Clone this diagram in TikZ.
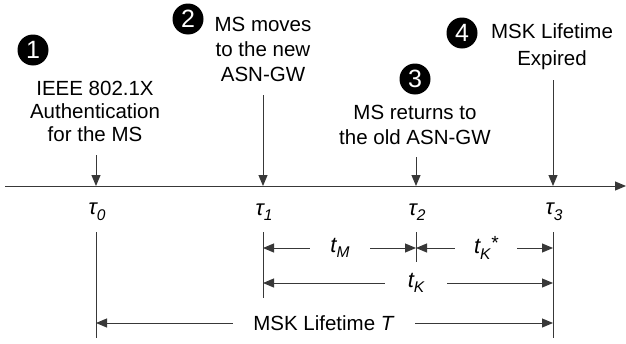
\documentclass[tikz,border=0pt]{standalone}
\usepackage{fontspec}
\setmainfont{Liberation Sans}
\usetikzlibrary{arrows.meta}
\definecolor{linec}{rgb}{0.22,0.22,0.22}
\newcommand\subtxt[1]{\raisebox{-0.25em}{\fontsize{15.5}{15.5}\selectfont\itshape #1}}
\begin{document}
\begin{tikzpicture}[x=1pt,y=-1pt,
  ln/.style={draw=linec, line width=1pt},
  arr/.style={ln, -{Triangle[length=11pt,width=9pt]}},
  num/.style={circle, fill=black, text=white, minimum size=31pt, inner sep=0pt, font=\fontsize{25}{25}\selectfont},
  lbl/.style={align=center, font=\fontsize{20.5}{25}\selectfont, inner sep=0pt},
  tau/.style={font=\fontsize{22}{22}\selectfont\itshape, inner sep=0pt},
  dimlbl/.style={font=\fontsize{22}{22}\selectfont, inner sep=0pt, align=center}]
\useasboundingbox (0,0) rectangle (626,343);
% numbered markers
\node[num] (n1) at (33,50) {1};
\node[num] (n2) at (188,19) {2};
\node[num] (n3) at (415,79) {3};
\node[num] (n4) at (462,33) {4};
% event texts
\node[lbl, font=\fontsize{20.5}{23}\selectfont] (l1) at (95,111) {IEEE 802.1X\\Authentication\\for the MS};
\node[lbl] (l2) at (263,49) {MS moves\\to the new\\ASN-GW};
\node[lbl] (l3) at (415,125) {MS returns to\\the old ASN-GW};
\node[lbl, font=\fontsize{20.5}{27}\selectfont] (l4) at (552,47) {MSK Lifetime\\Expired};
% axis
\coordinate (ax0) at (5,186);
\coordinate (ax1) at (626,186);
\draw[arr] (ax0) -- (ax1);
\coordinate (p0) at (96,186);
\coordinate (p1) at (263,186);
\coordinate (p2) at (416,186);
\coordinate (p3) at (553,186);
\coordinate (s0) at (96,155);
\coordinate (s1) at (263,95);
\coordinate (s2) at (416,157);
\coordinate (s3) at (553,80);
\draw[arr] (s0) -- (p0);
\draw[arr] (s1) -- (p1);
\draw[arr] (s2) -- (p2);
\draw[arr] (s3) -- (p3);
% tau labels
\node[tau] (t0) at (97,212) {τ\subtxt{0}};
\node[tau] (t1) at (264,212) {τ\subtxt{1}};
\node[tau] (t2) at (417,212) {τ\subtxt{2}};
\node[tau] (t3) at (554,212) {τ\subtxt{3}};
% vertical reference lines
\coordinate (v0a) at (96,232);  \coordinate (v0b) at (96,338);
\coordinate (v1a) at (263,232); \coordinate (v1b) at (263,298);
\coordinate (v2a) at (416,232); \coordinate (v2b) at (416,262);
\coordinate (v3a) at (553,232); \coordinate (v3b) at (553,338);
\draw[ln] (v0a) -- (v0b);
\draw[ln] (v1a) -- (v1b);
\draw[ln] (v2a) -- (v2b);
\draw[ln] (v3a) -- (v3b);
% dimension labels
\node[dimlbl, minimum width=60pt] (dM) at (340,248) {\itshape t\subtxt{M}};
\node[dimlbl, minimum width=62pt] (dKs) at (486,248) {\itshape t\subtxt{K}\raisebox{0.2em}{\fontsize{19}{19}\selectfont *}};
\node[dimlbl, minimum width=62pt] (dK) at (416,283) {\itshape t\subtxt{K}};
\node[dimlbl, minimum width=182pt, font=\fontsize{20.5}{22}\selectfont] (dT) at (324,323) {MSK Lifetime \textit{T}};
\draw[arr] (dM.west) -- (dM.west -| v1a);
\draw[arr] (dM.east) -- (dM.east -| v2a);
\draw[arr] (dKs.west) -- (dKs.west -| v2a);
\draw[arr] (dKs.east) -- (dKs.east -| v3a);
\draw[arr] (dK.west) -- (dK.west -| v1a);
\draw[arr] (dK.east) -- (dK.east -| v3a);
\draw[arr] (dT.west) -- (dT.west -| v0a);
\draw[arr] (dT.east) -- (dT.east -| v3a);
\end{tikzpicture}
\end{document}
